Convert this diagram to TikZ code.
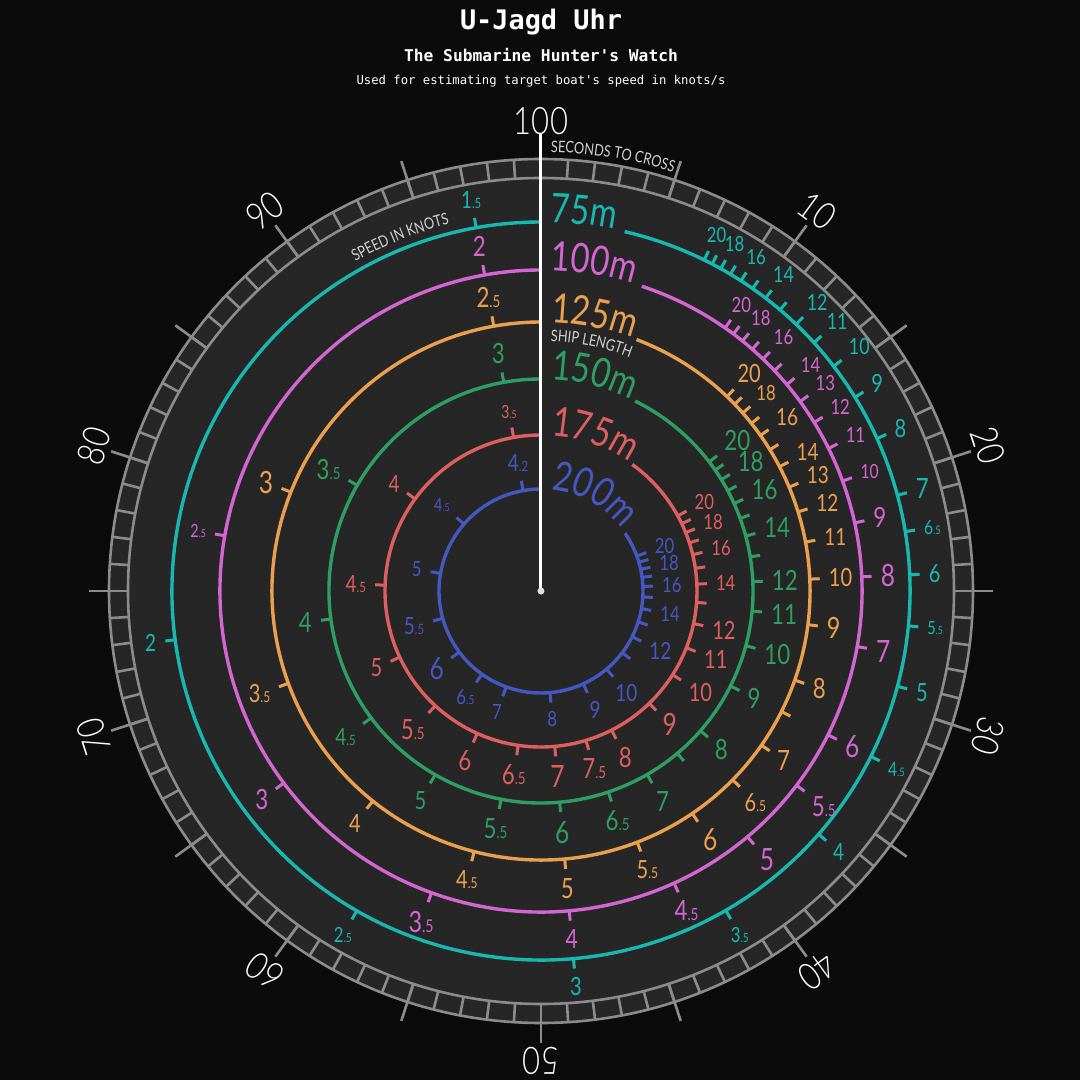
\documentclass[tikz,border=0pt]{standalone}
\usepackage{fontspec}
\usepackage{graphicx}
\usetikzlibrary{decorations.text}
\newfontfamily\nf[FakeStretch=0.8]{Lato}
\newfontfamily\nfl[FakeStretch=0.82]{Lato Light}
\newfontfamily\mono{DejaVu Sans Mono}
\definecolor{bg}{HTML}{0B0B0B}
\definecolor{face}{HTML}{262626}
\definecolor{bez}{HTML}{8C8C8C}
\definecolor{cap}{HTML}{D2D2D2}
\definecolor{cy}{HTML}{17B8B0}
\definecolor{mg}{HTML}{D466D4}
\definecolor{og}{HTML}{EBA04F}
\definecolor{gr}{HTML}{2E9E62}
\definecolor{rd}{HTML}{DE5F5F}
\definecolor{bl}{HTML}{4558C2}
\newcommand\sm[1]{\scalebox{0.6}{#1}}
\newcommand\ringfont{\nf\fontsize{41}{41}\selectfont}
\newcommand\capfont{\nf\fontsize{16}{16}\selectfont}
\tikzset{
  ringline/.style={line width=3.4bp},
  tickline/.style={line width=3bp},
  bezline/.style={draw=bez,line width=2.6bp},
}
\newcommand\watchring[7]{%
  \draw[ringline,#3] ({90-#4}:#2) arc[start angle={90-#4}, end angle=-270, radius=#2];
  \foreach \v in {#6}{%
    \pgfmathsetmacro\th{90-#1*6.99782/\v}%
    \pgfmathsetmacro\ro{#2+10}%
    \draw[tickline,#3] (\th:#2) -- (\th:\ro);
  }
  \foreach \v/\lab/\sz [count=\k] in {#7}{%
    \pgfmathsetmacro\th{90-#1*6.99782/\v}%
    \pgfmathsetmacro\an{\th+180}%
    \pgfmathsetmacro\rr{#2+19}%
    \pgfmathsetmacro\fs{\sz*1.4}%
    \node[name=lab#3\k, anchor=\an, text=#3, inner sep=0pt, font={\nf\fontsize{\fs}{\fs}\selectfont}] at (\th:\rr) {\lab};
  }
  \pgfmathsetmacro\ph{10/#2*57.2958}%
  \path[decorate,decoration={text along path,text={|\ringfont|#5},text color=#3}] ({90-\ph}:#2) arc[start angle={90-\ph}, end angle={-10-\ph}, radius=#2];
}
\begin{document}
\begin{tikzpicture}[x=1bp,y=1bp]
\useasboundingbox (-541,-489) rectangle (539,591);
\fill[bg] (-541,-489) rectangle (539,591);
% titles
\node[name=title, text=white, font={\mono\bfseries\fontsize{27}{27}\selectfont}] at (0,569) {U-Jagd Uhr};
\node[name=sub1, text=white, font={\mono\bfseries\fontsize{16.3}{16.3}\selectfont}] at (0,536) {The Submarine Hunter's Watch};
\node[name=sub2, text=white, font={\mono\fontsize{12.3}{12.3}\selectfont}] at (0,510) {Used for estimating target boat's speed in knots/s};
% face
\fill[face] (0,0) circle[radius=432];
% bezel
\draw[bezline] (0,0) circle[radius=413];
\draw[bezline] (0,0) circle[radius=432];
\foreach \i in {0,...,99}{\draw[bezline] ({90-\i*3.6}:413) -- ({90-\i*3.6}:432);}
\foreach \i in {0,5,...,95}{\draw[bezline] ({90-\i*3.6}:413) -- ({90-\i*3.6}:452);}
\foreach \i in {10,20,...,100}{%
  \node[name=bz\i, text=white, rotate={-\i*3.6}, inner sep=0pt, font={\nfl\fontsize{38}{38}\selectfont}] at ({90-\i*3.6}:470) {\i};
}
% captions
\path[decorate,decoration={text along path,text={|\capfont|SECONDS TO CROSS},text color=cap}] (88.7:439) arc[start angle=88.7, end angle=40, radius=439];
\path[decorate,decoration={text along path,text={|\capfont|SPEED IN KNOTS},text color=cap,text align=right}] (-225:378) arc[start angle=-225, end angle=-256, radius=378];
\path[decorate,decoration={text along path,text={|\capfont|SHIP LENGTH},text color=cap}] (87.8:250) arc[start angle=87.8, end angle=40, radius=250];
% rings
\watchring{75}{369}{cy}{13.1}{75m}{1.5,2,...,7,8,9,...,20}{1.5/{1\sm{.5}}/17, 2/2/17, 2.5/{2\sm{.5}}/15, 3/3/18, 3.5/{3\sm{.5}}/15, 4/4/17, 4.5/{4\sm{.5}}/14, 5/5/18, 5.5/{5\sm{.5}}/13, 6/6/18, 6.5/{6\sm{.5}}/14, 7/7/20, 8/8/18, 9/9/18, 10/10/16, 11/11/16, 12/12/16, 14/14/16, 16/16/15, 18/18/15, 20/20/15}
\watchring{100}{321}{mg}{18.3}{100m}{2,2.5,...,6,7,8,...,20}{2/2/20, 2.5/{2\sm{.5}}/13, 3/3/20, 3.5/{3\sm{.5}}/21, 4/4/19, 4.5/{4\sm{.5}}/20, 5/5/22, 5.5/{5\sm{.5}}/20, 6/6/22, 7/7/22, 8/8/22, 9/9/20, 10/10/14, 11/11/15, 12/12/15, 13/13/15, 14/14/15, 16/16/15, 18/18/15, 20/20/15}
\watchring{125}{269}{og}{20.8}{125m}{2.5,3,...,7.5,8,9,...,20}{2.5/{2\sm{.5}}/20, 3/3/22, 3.5/{3\sm{.5}}/18, 4/4/18, 4.5/{4\sm{.5}}/18, 5/5/20, 5.5/{5\sm{.5}}/18, 6/6/22, 6.5/{6\sm{.5}}/18, 7/7/20, 8/8/20, 9/9/21, 10/10/18, 11/11/17, 12/12/17, 13/13/17, 14/14/17, 16/16/17, 18/18/15, 20/20/18}
\watchring{150}{212}{gr}{26.4}{150m}{3,3.5,...,7.5,8,9,...,20}{3/3/20, 3.5/{3\sm{.5}}/20, 4/4/20, 4.5/{4\sm{.5}}/17, 5/5/18, 5.5/{5\sm{.5}}/20, 6/6/22, 6.5/{6\sm{.5}}/20, 7/7/20, 8/8/20, 9/9/20, 10/10/20, 11/11/20, 12/12/20, 14/14/20, 16/16/20, 18/18/20, 20/20/20}
\watchring{175}{156}{rd}{35.8}{175m}{3.5,4,...,7.5,8,9,...,20}{3.5/{3\sm{.5}}/13, 4/4/17, 4.5/{4\sm{.5}}/17, 5/5/18, 5.5/{5\sm{.5}}/20, 6/6/20, 6.5/{6\sm{.5}}/20, 7/7/22, 7.5/{7\sm{.5}}/20, 8/8/20, 9/9/22, 10/10/18, 11/11/18, 12/12/18, 14/14/15, 16/16/15, 18/18/15, 20/20/15}
\watchring{200}{102}{bl}{55.5}{200m}{4,4.5,...,7,8,9,...,20}{4/{4\sm{.2}}/17, 4.5/{4\sm{.5}}/13, 5/5/15, 5.5/{5\sm{.5}}/17, 6/6/22, 6.5/{6\sm{.5}}/15, 7/7/15, 8/8/15, 9/9/17, 10/10/17, 12/12/17, 14/14/15, 16/16/15, 18/18/15, 20/20/15}
% needle
\coordinate (hub) at (0,0);
\coordinate (tip) at (90:457);
\draw[white, line width=3bp] (hub) -- (tip);
\fill[white!88!black] (hub) circle[radius=3.5];
\end{tikzpicture}
\end{document}
